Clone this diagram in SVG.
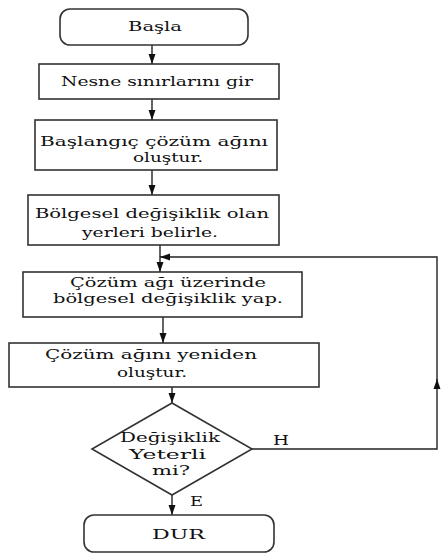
<svg xmlns="http://www.w3.org/2000/svg" width="441" height="554" viewBox="0 0 441 554">
<style>
.box{fill:#fff;stroke:#333;stroke-width:1.6}
.ln{fill:none;stroke:#222;stroke-width:1.4}
text{font-family:"DejaVu Serif","Liberation Serif",serif;font-size:13.5px;fill:#111}
</style>
<defs>
<marker id="ah" markerUnits="userSpaceOnUse" markerWidth="10" markerHeight="10" viewBox="0 0 10 10" refX="10" refY="5" orient="auto">
<path d="M0,1.5 L10,5 L0,8.5 Z" fill="#111"/>
</marker>
</defs>
<rect width="441" height="554" fill="#fff"/>
<g id="connectors">
<path class="ln" d="M152,45 V64" marker-end="url(#ah)"/>
<path class="ln" d="M152,99 V120" marker-end="url(#ah)"/>
<path class="ln" d="M152,170 V195" marker-end="url(#ah)"/>
<path class="ln" d="M160,245 V272" marker-end="url(#ah)"/>
<path class="ln" d="M163,317 V343" marker-end="url(#ah)"/>
<path class="ln" d="M172,387 V403" marker-end="url(#ah)"/>
<path class="ln" d="M172,495 V515" marker-end="url(#ah)"/>
<path class="ln" d="M252,449 H437 V379" marker-end="url(#ah)"/>
<path class="ln" d="M437,381 V257 H160" marker-end="url(#ah)"/>
<text x="273" y="445" textLength="16" lengthAdjust="spacingAndGlyphs">H</text>
<text x="190" y="506" textLength="13" lengthAdjust="spacingAndGlyphs">E</text>
</g>
<g id="start">
<rect class="box" x="60" y="9" width="188" height="36" rx="10"/>
<text x="128" y="31" textLength="54" lengthAdjust="spacingAndGlyphs">Başla</text>
</g>
<g id="input">
<rect class="box" x="39" y="64" width="240" height="35"/>
<text x="61" y="86" textLength="192" lengthAdjust="spacingAndGlyphs">Nesne sınırlarını gir</text>
</g>
<g id="init">
<rect class="box" x="35" y="120" width="242" height="50"/>
<text x="40" y="146" textLength="228" lengthAdjust="spacingAndGlyphs">Başlangıç çözüm ağını</text>
<text x="133" y="162" textLength="70" lengthAdjust="spacingAndGlyphs">oluştur.</text>
</g>
<g id="locate">
<rect class="box" x="28" y="195" width="251" height="50"/>
<text x="35" y="218" textLength="234" lengthAdjust="spacingAndGlyphs">Bölgesel değişiklik olan</text>
<text x="82" y="237" textLength="136" lengthAdjust="spacingAndGlyphs">yerleri belirle.</text>
</g>
<g id="modify">
<rect class="box" x="23" y="272" width="279" height="45"/>
<text x="70" y="287" textLength="196" lengthAdjust="spacingAndGlyphs">Çözüm ağı üzerinde</text>
<text x="53" y="303" textLength="230" lengthAdjust="spacingAndGlyphs">bölgesel değişiklik yap.</text>
</g>
<g id="rebuild">
<rect class="box" x="9" y="343" width="310" height="44"/>
<text x="45" y="359" textLength="212" lengthAdjust="spacingAndGlyphs">Çözüm ağını yeniden</text>
<text x="117" y="377" textLength="70" lengthAdjust="spacingAndGlyphs">oluştur.</text>
</g>
<g id="decision">
<polygon class="box" points="172,403 252,449 172,495 92,449"/>
<text x="120" y="442" textLength="100" lengthAdjust="spacingAndGlyphs">Değişiklik</text>
<text x="129" y="459" textLength="77" lengthAdjust="spacingAndGlyphs">Yeterli</text>
<text x="152" y="475" textLength="38" lengthAdjust="spacingAndGlyphs">mi?</text>
</g>
<g id="stop">
<rect class="box" x="84" y="515" width="190" height="37" rx="10"/>
<text x="152" y="539" textLength="53" lengthAdjust="spacingAndGlyphs">DUR</text>
</g>
</svg>
